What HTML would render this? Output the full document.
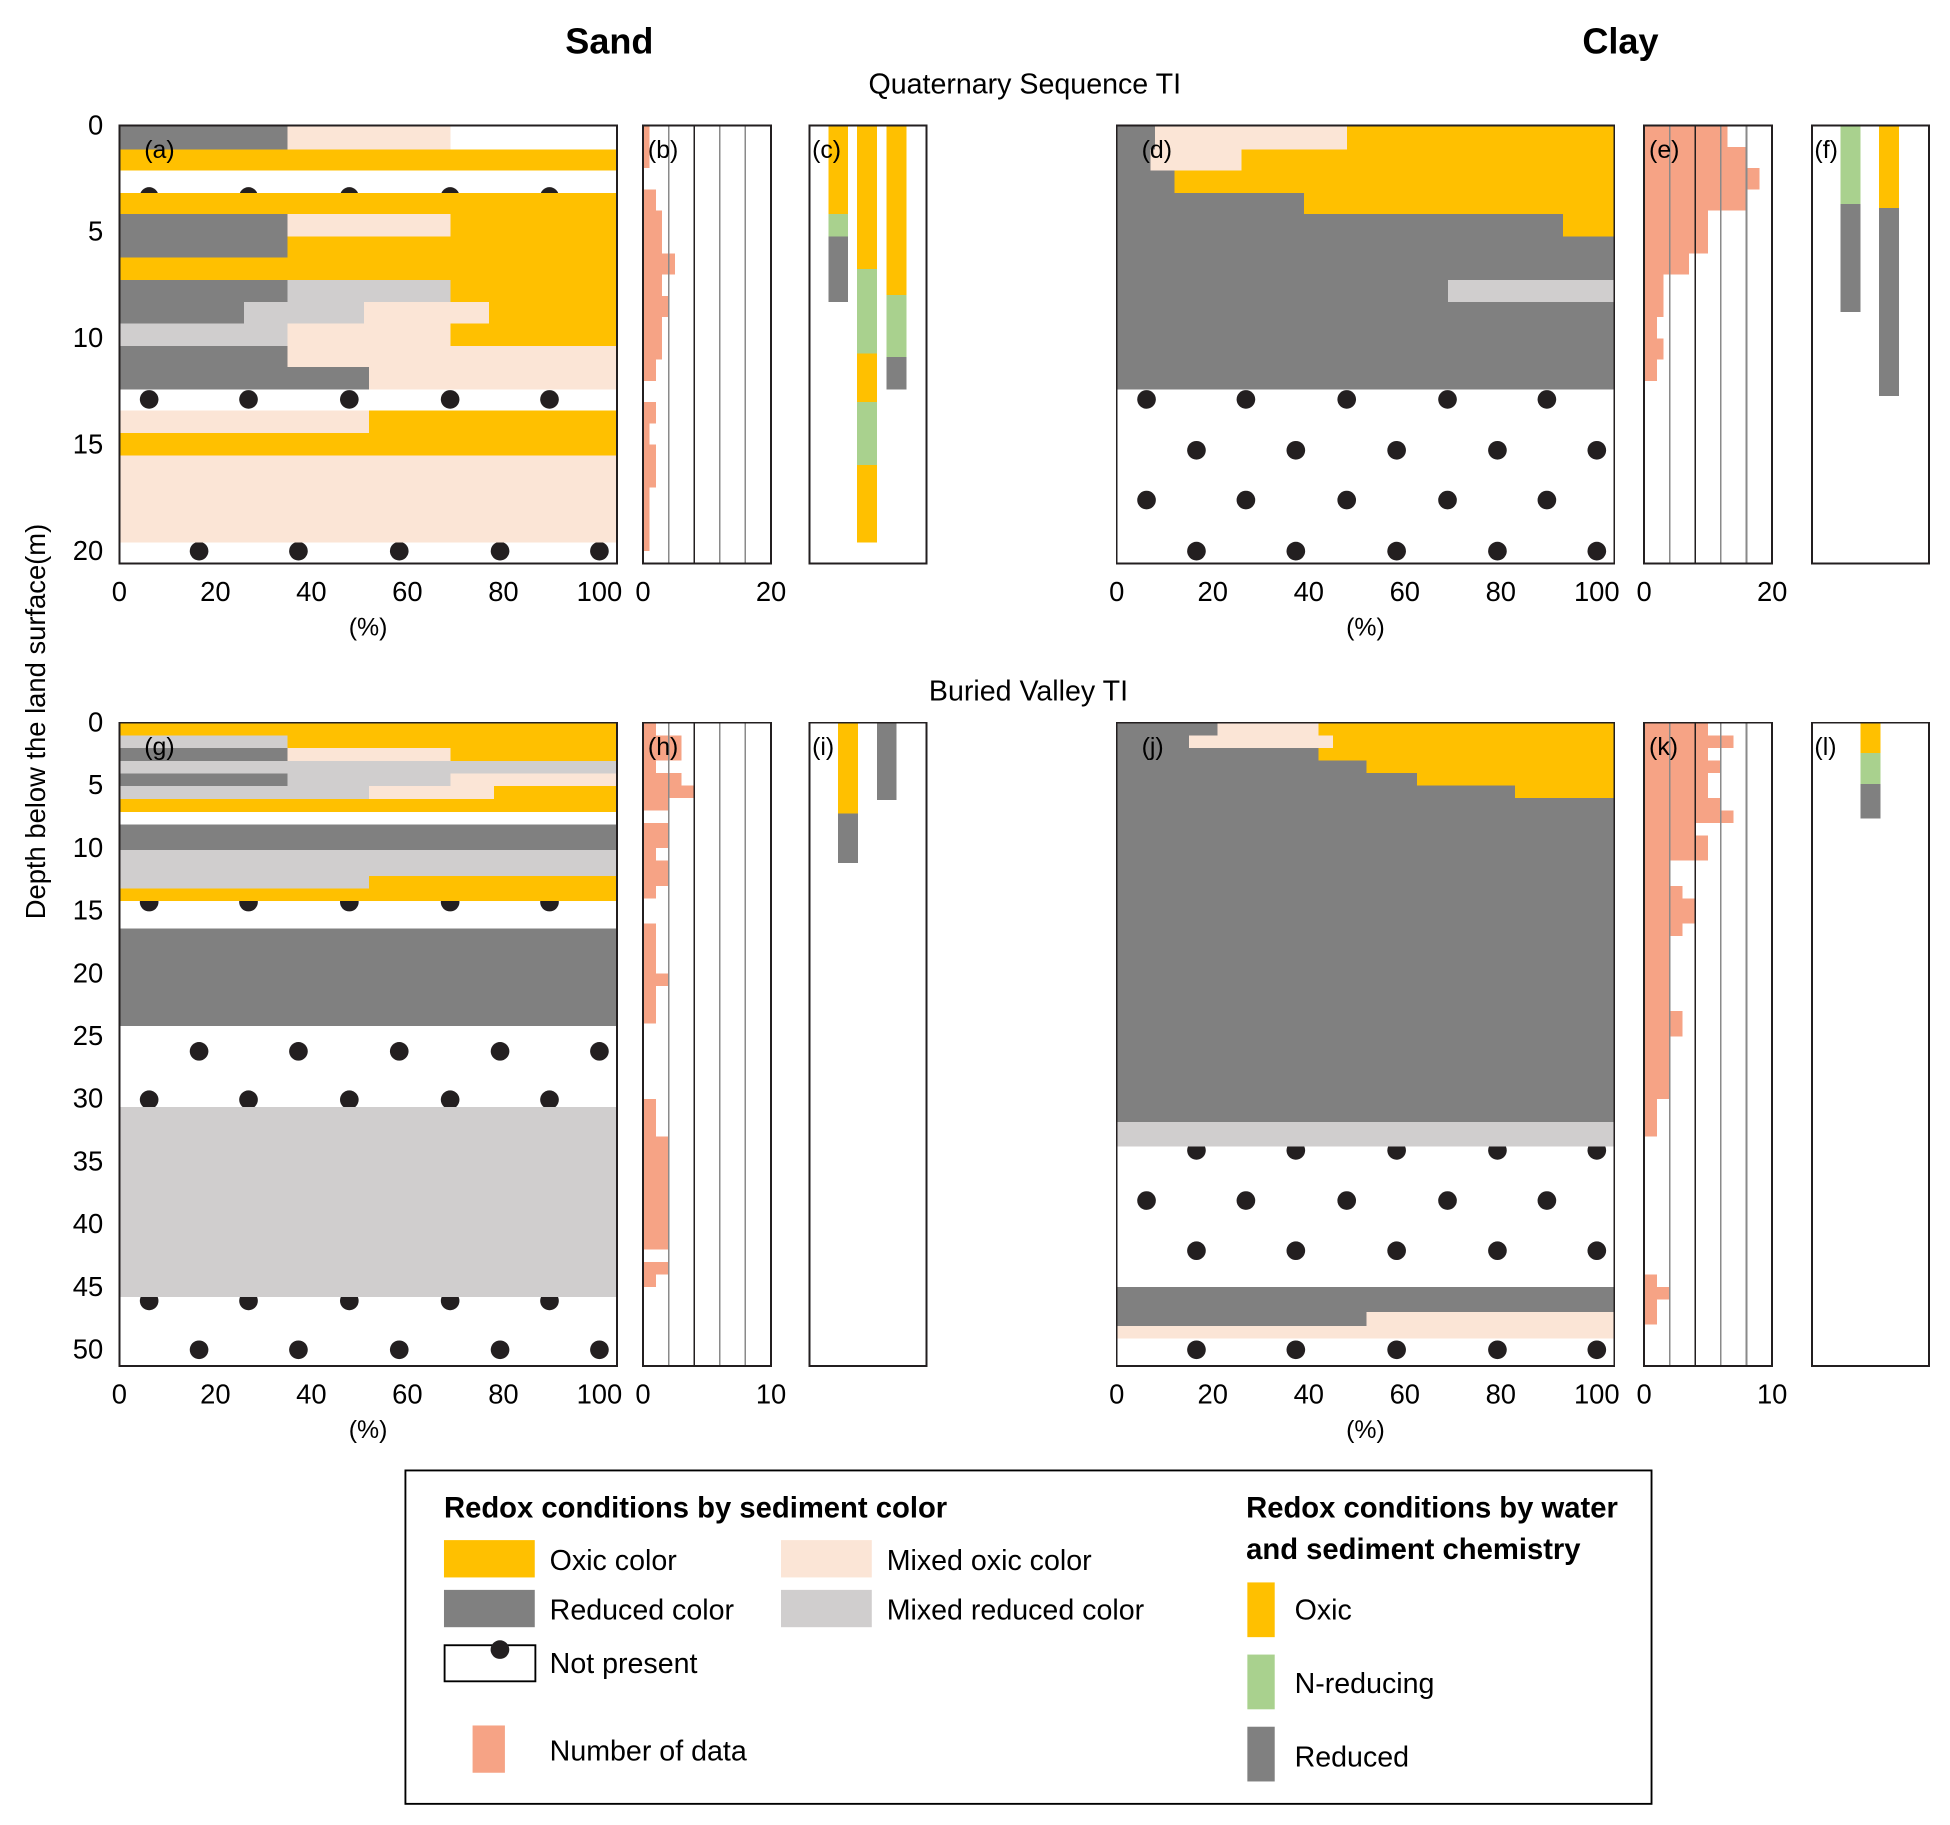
<!DOCTYPE html>
<html><head><meta charset="utf-8"><style>
html,body{margin:0;padding:0;background:#fff;}
svg{display:block;font-family:"Liberation Sans",sans-serif;}
</style></head><body>
<svg id="fig" width="1950" height="1825" viewBox="0 0 1568 1467" preserveAspectRatio="none" xmlns="http://www.w3.org/2000/svg">
<rect x="0" y="0" width="1568" height="1467" fill="#fff"/>
<text x="490" y="43" font-size="29" font-weight="bold" text-anchor="middle">Sand</text>
<text x="1303" y="43" font-size="29" font-weight="bold" text-anchor="middle">Clay</text>
<text x="824" y="75" font-size="23" text-anchor="middle">Quaternary Sequence TI</text>
<text x="827" y="563" font-size="23" text-anchor="middle">Buried Valley TI</text>
<text transform="translate(36,580) rotate(-90)" font-size="22" text-anchor="middle">Depth below the land surface(m)</text>
<g id="charts" shape-rendering="crispEdges"></g>
<g>
<rect x="326" y="1182" width="1002" height="268" fill="none" stroke="#000" stroke-width="1.5"/>
<text x="357" y="1220" font-size="23.5" font-weight="bold">Redox conditions by sediment color</text>
<rect x="357" y="1238" width="73" height="30" fill="#FFC000"/>
<text x="442" y="1262" font-size="23">Oxic color</text>
<rect x="357" y="1278" width="73" height="30" fill="#808080"/>
<text x="442" y="1302" font-size="23">Reduced color</text>
<rect x="357.5" y="1322.5" width="73" height="29" fill="#fff" stroke="#000" stroke-width="1.5"/>
<circle cx="402" cy="1326" r="7.5" fill="#231F20"/>
<text x="442" y="1345" font-size="23">Not present</text>
<rect x="628" y="1238" width="73" height="30" fill="#FBE5D6"/>
<text x="713" y="1262" font-size="23">Mixed oxic color</text>
<rect x="628" y="1278" width="73" height="30" fill="#D0CECE"/>
<text x="713" y="1302" font-size="23">Mixed reduced color</text>
<rect x="380" y="1387" width="26" height="38" fill="#F6A385"/>
<text x="442" y="1415" font-size="23">Number of data</text>
<text x="1002" y="1220" font-size="23.5" font-weight="bold">Redox conditions by water</text>
<text x="1002" y="1253" font-size="23.5" font-weight="bold">and sediment chemistry</text>
<rect x="1003" y="1272" width="22" height="44" fill="#FFC000"/>
<text x="1041" y="1302" font-size="23">Oxic</text>
<rect x="1003" y="1330" width="22" height="44" fill="#A9D18E"/>
<text x="1041" y="1361" font-size="23">N-reducing</text>
<rect x="1003" y="1388" width="22" height="44" fill="#808080"/>
<text x="1041" y="1420" font-size="23">Reduced</text>
</g>
</svg>
<script>
// ---- data ----
const layersA = [
 [0,1.11,[['R',35],['MO',69],['W',100]]],
 [1.11,2.11,[['O',100]]],
 [3.16,4.15,[['O',100]]],
 [4.15,5.2,[['R',35],['MO',69],['O',100]]],
 [5.2,6.2,[['R',35],['O',100]]],
 [6.2,7.25,[['O',100]]],
 [7.25,8.3,[['R',35],['MR',69],['O',100]]],
 [8.3,9.3,[['R',26],['MR',51],['MO',77],['O',100]]],
 [9.3,10.35,[['MR',35],['MO',69],['O',100]]],
 [10.35,11.35,[['R',35],['MO',100]]],
 [11.35,12.4,[['R',52],['MO',100]]],
 [13.4,14.45,[['MO',52],['O',100]]],
 [14.45,15.5,[['O',100]]],
 [15.5,19.6,[['MO',100]]]
];
const dotsA = [[3.33,'A'],[12.87,'A'],[20.0,'B']];
const layersD = [
 [0,1.11,[['R',8],['MO',48],['O',100]]],
 [1.11,2.11,[['R',7],['MO',26],['O',100]]],
 [2.11,3.16,[['R',12],['O',100]]],
 [3.16,4.15,[['R',39],['O',100]]],
 [4.15,5.2,[['R',93],['O',100]]],
 [5.2,7.25,[['R',100]]],
 [7.25,8.3,[['R',69],['MR',100]]],
 [8.3,12.4,[['R',100]]]
];
const dotsD = [[12.87,'A'],[15.26,'B'],[17.6,'A'],[20.0,'B']];
const layersG = [
 [0,1,[['O',100]]],
 [1,2,[['MR',35],['O',100]]],
 [2,3.03,[['R',35],['MO',69],['O',100]]],
 [3.03,4.04,[['MR',100]]],
 [4.04,5.05,[['R',35],['MR',69],['MO',100]]],
 [5.05,6.06,[['MR',52],['MO',78],['O',100]]],
 [6.06,7.1,[['O',100]]],
 [8.1,10.15,[['R',100]]],
 [10.15,12.2,[['MR',100]]],
 [12.2,13.2,[['MR',52],['O',100]]],
 [13.2,14.2,[['O',100]]],
 [16.4,24.2,[['R',100]]],
 [30.65,45.8,[['MR',100]]]
];
const dotsG = [[14.3,'A'],[26.2,'B'],[30.06,'A'],[46.1,'A'],[50.0,'B']];
const layersJ = [
 [0,1,[['R',21],['MO',42],['O',100]]],
 [1,2,[['R',15],['MO',45],['O',100]]],
 [2,3,[['R',42],['O',100]]],
 [3,4,[['R',52],['O',100]]],
 [4,5,[['R',62.5],['O',100]]],
 [5,6,[['R',83],['O',100]]],
 [6,31.85,[['R',100]]],
 [31.85,33.8,[['MR',100]]],
 [45.0,47.0,[['R',100]]],
 [47.0,48.1,[['R',52],['MO',100]]],
 [48.1,49.1,[['MO',100]]]
];
const dotsJ = [[34.1,'B'],[38.1,'A'],[42.1,'B'],[50.0,'B']];
const dotPctA = [6.2,26.9,47.9,68.9,89.6];
const dotPctB = [16.6,37.3,58.3,79.3,100];
const histB = [1,1,0,2,3,3,5,3,4,3,3,2,0,2,1,2,2,1,1,1];
const histE = [13,16,18,16,10,10,7,3,3,2,3,2];
const histH = [1,3,3,1,3,4,2,0,2,2,1,2,2,1,0,0,1,1,1,1,2,1,1,1,0,0,0,0,0,0,1,1,1,2,2,2,2,2,2,2,2,2,0,2,1];
const histK = [5,7,5,6,5,5,6,7,4,5,5,2,2,3,4,4,3,2,2,2,2,2,2,3,3,2,2,2,2,2,1,1,1,0,0,0,0,0,0,0,0,0,0,0,1,2,1,1];
const chemC = [[0,0,4.15,'O'],[0,4.15,5.2,'N'],[0,5.2,8.3,'R'],[1,0,6.73,'O'],[1,6.73,10.7,'N'],[1,10.7,13.0,'O'],[1,13.0,15.96,'N'],[1,15.96,19.6,'O'],[2,0,7.95,'O'],[2,7.95,10.88,'N'],[2,10.88,12.4,'R']];
const chemF = [[0,0,3.68,'N'],[0,3.68,8.77,'R'],[1,0,3.86,'O'],[1,3.86,12.7,'R']];
const chemI = [[0,0,7.25,'O'],[0,7.25,11.2,'R'],[1,0,6.15,'R']];
const chemL = [[0,0,2.4,'O'],[0,2.4,4.9,'N'],[0,4.9,7.65,'R']];
const depthTicksTop = [0,5,10,15,20];
const depthTicksBot = [0,5,10,15,20,25,30,35,40,45,50];
const pctTicks = [0,20,40,60,80,100];

// ---- drawing ----
const NS='http://www.w3.org/2000/svg';
const root=document.getElementById('charts');
const COL={O:'#FFC000',R:'#808080',MO:'#FBE5D6',MR:'#D0CECE',N:'#A9D18E',W:'#ffffff'};
const CATNAME={O:'oxic',R:'reduced',MO:'mixed-oxic',MR:'mixed-reduced',N:'n-reducing',W:'blank'};
function el(tag,attrs,parent){const e=document.createElementNS(NS,tag);for(const k in attrs)e.setAttribute(k,attrs[k]);(parent||root).appendChild(e);return e;}
const rowTop={y0:101,pxPerM:17.1,bottom:453,maxD:20};
const rowBot={y0:581,pxPerM:10.08,bottom:1098,maxD:50};
function yOf(row,d){return row.y0+d*row.pxPerM;}

function sedimentPanel(name,letter,x0,row,layers,dots){
  const g=el('g',{});
  
  
  const W=400,k=3.86;
  const xp=p=>p>=100?x0+W:x0+p*k;
  dots.forEach(dr=>{
    (dr[1]==='A'?dotPctA:dotPctB).forEach(p=>{
      const c=el('circle',{cx:x0+p*k,cy:yOf(row,dr[0]),r:7.5,fill:'#231F20','shape-rendering':'auto'},g);
      
      
    });
  });
  layers.forEach(L=>{
    let prev=0;
    L[2].forEach(s=>{
      if(s[0]!=='W'){
      const r=el('rect',{x:xp(prev),y:yOf(row,L[0]),width:xp(s[1])-xp(prev),height:(L[1]-L[0])*row.pxPerM,fill:COL[s[0]]},g);
      
      
      }
      prev=s[1];
    });
  });
  el('rect',{x:x0,y:row.y0,width:W,height:row.bottom-row.y0,fill:'none',stroke:'#231F20','stroke-width':1.5},g);
  const lb=el('text',{x:x0+20,y:row.y0+26,'font-size':20},g);lb.textContent='('+letter+')';
  
  
  const ly=row.bottom+30;
  pctTicks.forEach(t=>{const tx=el('text',{x:x0+t*k,y:ly,'font-size':22,'text-anchor':'middle'},g);tx.textContent=t;
    
    });
  const u=el('text',{x:x0+200,y:ly+28,'font-size':20,'text-anchor':'middle'},g);u.textContent='(%)';
  
  
}
function histPanel(name,letter,x0,row,vals,maxV,binM){
  const g=el('g',{});
  
  
  const W=103,xs=v=>x0+v/maxV*W;
  vals.forEach((v,i)=>{ if(v<=0)return;
    const r=el('rect',{x:x0,y:yOf(row,i*binM),width:xs(v)-x0,height:binM*row.pxPerM,fill:'#F6A385'},g);
    
    
  });
  for(let i=1;i<5;i++){const gx=xs(maxV*i/5);
    el('line',{x1:gx,y1:row.y0,x2:gx,y2:row.bottom,stroke:i===2?'#231F20':'#8a8a8a','stroke-width':1.3},g);}
  el('rect',{x:x0,y:row.y0,width:W,height:row.bottom-row.y0,fill:'none',stroke:'#231F20','stroke-width':1.5},g);
  const lb=el('text',{x:x0+4,y:row.y0+26,'font-size':20},g);lb.textContent='('+letter+')';
  
  
  const ly=row.bottom+30;
  [0,maxV].forEach(t=>{const tx=el('text',{x:xs(t),y:ly,'font-size':22,'text-anchor':'middle'},g);tx.textContent=t;
    
    });
}
function chemPanel(name,letter,x0,row,items,colX){
  const g=el('g',{});
  
  
  items.forEach(it=>{
    const r=el('rect',{x:x0+colX[it[0]],y:yOf(row,it[1]),width:16,height:(it[2]-it[1])*row.pxPerM,fill:COL[it[3]]},g);
    
    
  });
  el('rect',{x:x0,y:row.y0,width:94,height:row.bottom-row.y0,fill:'none',stroke:'#231F20','stroke-width':1.5},g);
  const lb=el('text',{x:x0+2,y:row.y0+26,'font-size':20},g);lb.textContent='('+letter+')';
  
  
}
function depthAxis(row,ticks){
  ticks.forEach(t=>{const tx=el('text',{x:83,y:yOf(row,t)+7,'font-size':22,'text-anchor':'end'});tx.textContent=t;
    
    });
}
depthAxis(rowTop,depthTicksTop);
depthAxis(rowBot,depthTicksBot);
sedimentPanel('panel-a-sand-quaternary','a',96,rowTop,layersA,dotsA);
histPanel('panel-b-hist','b',517,rowTop,histB,20,1);
chemPanel('panel-c-chem','c',651,rowTop,chemC,[15,38,62]);
sedimentPanel('panel-d-clay-quaternary','d',898,rowTop,layersD,dotsD);
histPanel('panel-e-hist','e',1322,rowTop,histE,20,1);
chemPanel('panel-f-chem','f',1457,rowTop,chemF,[23,54]);
sedimentPanel('panel-g-sand-buried','g',96,rowBot,layersG,dotsG);
histPanel('panel-h-hist','h',517,rowBot,histH,10,1);
chemPanel('panel-i-chem','i',651,rowBot,chemI,[23,54]);
sedimentPanel('panel-j-clay-buried','j',898,rowBot,layersJ,dotsJ);
histPanel('panel-k-hist','k',1322,rowBot,histK,10,1);
chemPanel('panel-l-chem','l',1457,rowBot,chemL,[39]);
</script>
</body></html>
